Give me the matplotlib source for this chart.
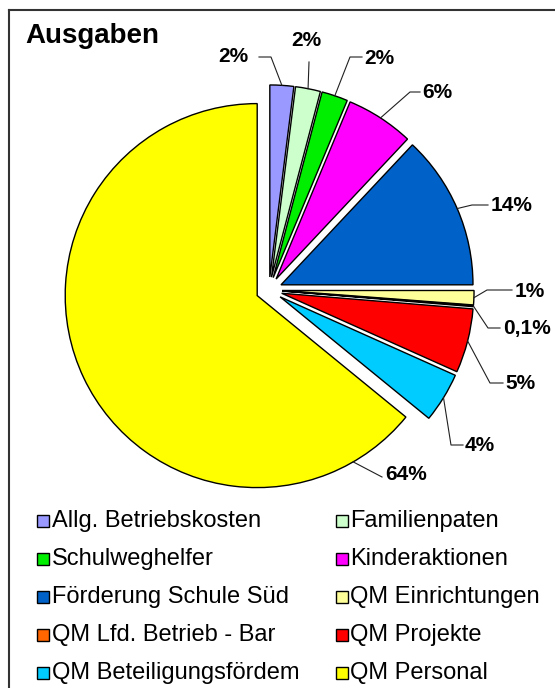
import matplotlib
matplotlib.use("Agg")
import matplotlib.pyplot as plt
import numpy as np
from matplotlib.patches import Rectangle
from matplotlib.lines import Line2D

plt.rcParams['font.family'] = ['Liberation Sans', 'DejaVu Sans']

# Daten (Anteile in %, aus dem Bild geschätzt)
categories = ['Allg. Betriebskosten', 'Familienpaten', 'Schulweghelfer', 'Kinderaktionen',
              'Förderung Schule Süd', 'QM Einrichtungen', 'QM Lfd. Betrieb - Bar',
              'QM Projekte', 'QM Beteiligungsfördem', 'QM Personal']
values = [2.0, 2.1, 2.2, 5.7, 13.0, 1.2, 0.1, 5.4, 4.2, 64.1]
pct_labels = ['2%', '2%', '2%', '6%', '14%', '1%', '0,1%', '5%', '4%', '64%']
colors = ['#9999FF', '#CCFFCC', '#00EE00', '#FF00FF', '#0062C8',
          '#FFFF99', '#FF6600', '#FF0000', '#00CCFF', '#FFFF00']

# Layout (Pixel im 555x688-Bild)
W, H = 555, 688
CX, CY, R = 269, 290, 192
lbl_xy = [(233, 57), (306, 41), (379, 58), (437, 92), (512, 205),
          (530, 291), (527, 328), (520, 383), (480, 445), (406, 474)]
lbl_elbow = [(271, 57), (309, 62), (350, 57), (410, 92), (472, 205),
             (487, 290), (488, 328), (490, 383), (451, 445), (382, 477)]
lbl_end = [(259, 57), (309, 62), (362, 57), (420, 92), (488, 205),
           (512, 290), (500, 328), (503, 383), (463, 445), (382, 477)]
anchor_frac = [0.5] * 9 + [0.09]


def px(x, y):
    return ((x - CX) / R, (CY - y) / R)


fig = plt.figure(figsize=(W / 100, H / 100), dpi=100)
ax = fig.add_axes([0, 0, 1, 1])

wedges, _ = ax.pie(values, colors=colors, startangle=90, counterclock=False,
                   explode=[0.068] * len(values), radius=1,
                   wedgeprops=dict(edgecolor='black', linewidth=1.0))

ax.set_aspect('auto')
ax.set_xlim(-CX / R, (W - CX) / R)
ax.set_ylim((CY - H) / R, CY / R)
ax.axis('off')

# Datenbeschriftungen mit Führungslinien
for i, w in enumerate(wedges):
    ang = np.deg2rad(w.theta2 - anchor_frac[i] * (w.theta2 - w.theta1))
    ax_, ay_ = w.center[0] + w.r * np.cos(ang), w.center[1] + w.r * np.sin(ang)
    ex, ey = px(*lbl_elbow[i])
    sx, sy = px(*lbl_end[i])
    ax.plot([ax_, ex, sx], [ay_, ey, sy], color='#202020', lw=0.8)
    tx, ty = px(*lbl_xy[i])
    ax.text(tx, ty, pct_labels[i], ha='center', va='center',
            fontsize=15, fontweight='bold', color='black')

# Titel
fig.text(25 / W, 1 - 36 / H, 'Ausgaben', ha='left', va='center',
         fontsize=20, fontweight='bold')

# Rahmen (nur oben und links sichtbar)
fig.add_artist(Line2D([9 / W, 1], [1 - 10 / H, 1 - 10 / H], transform=fig.transFigure,
                      color='#333333', lw=1.5))
fig.add_artist(Line2D([9 / W, 9 / W], [0, 1 - 10 / H], transform=fig.transFigure,
                      color='#333333', lw=1.5))

# Legende, zweispaltig
rows_y = [521, 559, 597, 635, 673]
mark_x = [37, 336]
text_x = [52, 350]
for i, name in enumerate(categories):
    r, c = i // 2, i % 2
    y = rows_y[r]
    fig.add_artist(Rectangle((mark_x[c] / W, 1 - (y + 6) / H), 12 / W, 12 / H,
                             transform=fig.transFigure, facecolor=colors[i],
                             edgecolor='black', lw=1.0))
    fig.text(text_x[c] / W, 1 - y / H, name, ha='left', va='center', fontsize=17)

fig.savefig('out.png', dpi=100)
plt.close(fig)
